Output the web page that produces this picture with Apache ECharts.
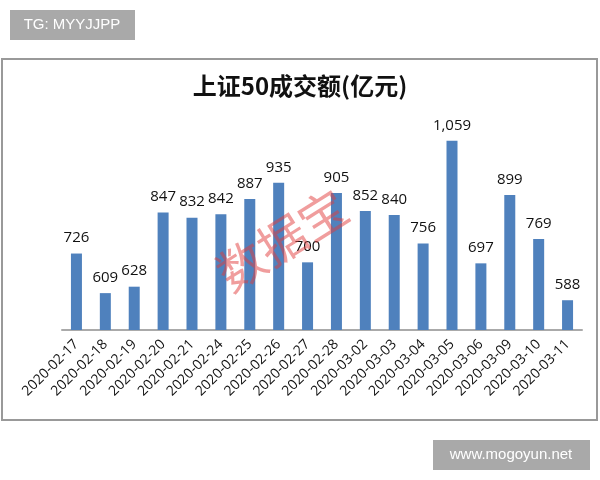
<!DOCTYPE html>
<html>
<head>
<meta charset="utf-8">
<script src="https://cdn.jsdelivr.net/npm/echarts@6/dist/echarts.min.js"></script>
<style>
  html, body { margin: 0; padding: 0; background: #fff; }
  #chart { width: 600px; height: 480px; }
</style>
</head>
<body>
<div id="chart"></div>
<script>
// 日期和成交额(亿元)
const dates = ['2020-02-17', '2020-02-18', '2020-02-19', '2020-02-20', '2020-02-21', '2020-02-24',
  '2020-02-25', '2020-02-26', '2020-02-27', '2020-02-28', '2020-03-02', '2020-03-03',
  '2020-03-04', '2020-03-05', '2020-03-06', '2020-03-09', '2020-03-10', '2020-03-11'];
const volumes = [726, 609, 628, 847, 832, 842, 887, 935, 700, 905, 852, 840, 756, 1059, 697, 899, 769, 588];

const chart = echarts.init(document.getElementById('chart'));

const option = {
  backgroundColor: '#fff',
  title: {
    text: '上证50成交额(亿元)',
    left: 'center',
    top: 69,
    textStyle: {
      color: '#111',
      fontSize: 24,
      fontWeight: 'bold',
      fontFamily: 'Noto Sans CJK SC',
    },
  },
  grid: { left: 62, right: 18, top: 127, bottom: 150 },
  xAxis: {
    type: 'category',
    data: dates,
    axisLine: { lineStyle: { color: '#aaa', width: 2 } },
    axisTick: { show: false },
    axisLabel: {
      rotate: 45,
      interval: 0,
      margin: 12,
      color: '#111',
      fontSize: 14,
      fontFamily: 'Open Sans',
    },
  },
  yAxis: {
    type: 'value',
    min: 500,
    max: 1100,
    show: false,
  },
  series: [
    {
      type: 'bar',
      data: volumes,
      barWidth: 11,
      itemStyle: { color: '#4f81bd' },
      label: {
        show: true,
        position: 'top',
        distance: 8,
        color: '#111',
        fontSize: 15,
        fontFamily: 'Open Sans',
        formatter: (p) => p.value.toLocaleString('en-US'),
      },
    },
  ],
  graphic: [
    // 外框
    {
      type: 'rect',
      shape: { x: 2, y: 59, width: 595, height: 361 },
      style: { fill: 'none', stroke: '#999', lineWidth: 2 },
      z: -1,
    },
    // 水印
    {
      type: 'text',
      x: 282,
      y: 240,
      rotation: Math.PI / 5.6,
      style: {
        text: '数据宝',
        fill: 'rgba(225, 60, 60, 0.5)',
        font: '48px "Noto Sans CJK SC"',
        align: 'center',
        verticalAlign: 'middle',
      },
      z: 10,
    },
    {
      type: 'rect',
      shape: { x: 10, y: 10, width: 125, height: 30 },
      style: { fill: '#a9a9a9' },
    },
    {
      type: 'text',
      x: 72,
      y: 25,
      style: {
        text: 'TG: MYYJJPP',
        fill: '#fff',
        font: '15px "Liberation Sans"',
        align: 'center',
        verticalAlign: 'middle',
      },
    },
    {
      type: 'rect',
      shape: { x: 433, y: 440, width: 157, height: 30 },
      style: { fill: '#a9a9a9' },
    },
    {
      type: 'text',
      x: 511,
      y: 455,
      style: {
        text: 'www.mogoyun.net',
        fill: '#fff',
        font: '15px "Liberation Sans"',
        align: 'center',
        verticalAlign: 'middle',
      },
    },
  ],
};

chart.setOption(option);
</script>
</body>
</html>
